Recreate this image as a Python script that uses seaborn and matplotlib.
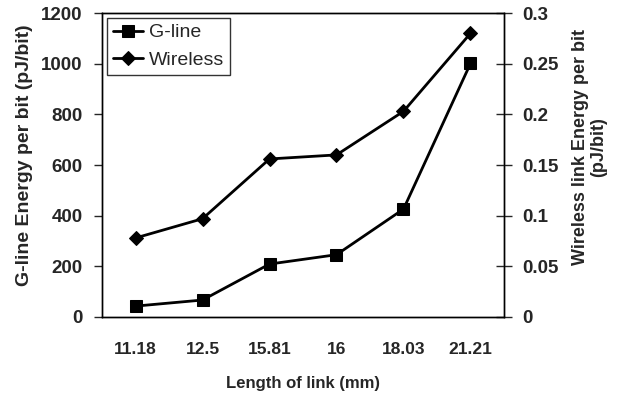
import pandas as pd
import numpy as np
import matplotlib
matplotlib.use("Agg")
import matplotlib.pyplot as plt
import seaborn as sns

lengths = ["11.18", "12.5", "15.81", "16", "18.03", "21.21"]
gline_energy = [43, 67, 209, 246, 426, 1001]
wireless_energy = [0.078, 0.097, 0.156, 0.160, 0.203, 0.280]

sns.set_style("white")
plt.rcParams['font.family'] = ['Liberation Sans', 'DejaVu Sans']

df = pd.DataFrame({"pos": np.arange(len(lengths)), "gline": gline_energy,
                   "wireless": wireless_energy})

fig = plt.figure(figsize=(6.19, 3.96), dpi=100)
ax = fig.add_axes([0.1648, 0.1995, 0.6494, 0.7675])
ax2 = ax.twinx()

sns.lineplot(data=df, x="pos", y="gline", ax=ax, color="black", marker="s",
             markersize=8, markeredgecolor="black", linewidth=2, label="G-line", legend=False)
sns.lineplot(data=df, x="pos", y="wireless", ax=ax2, color="black", marker="D",
             markersize=7.5, markeredgecolor="black", linewidth=2, label="Wireless", legend=False)

ytick_fs = 13.5
ax.set_xlim(-0.5, 5.5)
ax.set_ylim(0, 1200)
ax2.set_ylim(0, 0.3)
ax.set_yticks(range(0, 1201, 200))
ax.set_yticklabels([str(v) for v in range(0, 1201, 200)], fontweight="bold", fontsize=ytick_fs)
ax2.set_yticks([0, 0.05, 0.1, 0.15, 0.2, 0.25, 0.3])
ax2.set_yticklabels(["0", "0.05", "0.1", "0.15", "0.2", "0.25", "0.3"], fontweight="bold", fontsize=ytick_fs)

ax.set_xticks(range(len(lengths)))
ax.set_xticklabels(lengths, fontweight="bold", fontsize=12.5)
ax.set_xticks(np.arange(-0.5, 6, 1), minor=True)
ax.tick_params(axis="x", which="major", length=0, pad=18)
ax.tick_params(axis="x", which="minor", length=12, direction="inout", width=1)
ax.tick_params(axis="y", which="major", length=6, direction="out", width=1, left=True, pad=8)
ax2.tick_params(axis="y", which="major", length=12, direction="inout", width=1, right=True, pad=7)

for a in (ax, ax2):
    for s in a.spines.values():
        s.set_color("black")
        s.set_linewidth(1)
    a.grid(False)

ax.set_xlabel("Length of link (mm)", fontweight="bold", fontsize=12, labelpad=14)
ax.set_ylabel("G-line Energy per bit (pJ/bit)", fontweight="bold", fontsize=14)
ax.yaxis.set_label_coords(-0.172, 0.533)
ax2.set_ylabel("Wireless link Energy per bit\n(pJ/bit)", fontweight="bold", fontsize=13,
               linespacing=1.1)
ax2.yaxis.set_label_coords(1.169, 0.56)

h1, l1 = ax.get_legend_handles_labels()
h2, l2 = ax2.get_legend_handles_labels()
leg = ax.legend(h1 + h2, l1 + l2, loc="upper left", fontsize=14, frameon=True,
                fancybox=False, edgecolor="black", borderaxespad=0.25,
                handlelength=1.55, handletextpad=0.3, borderpad=0.3, labelspacing=0.5)
leg.get_frame().set_linewidth(1)

fig.savefig("out.png", dpi=100)
